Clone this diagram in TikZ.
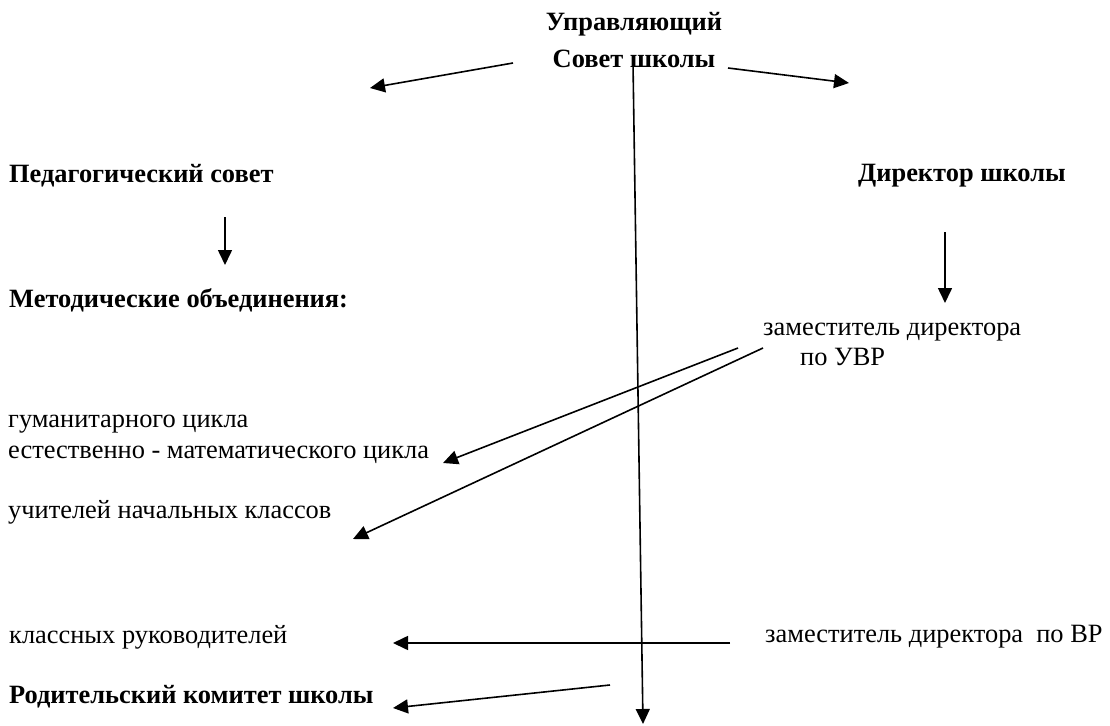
\documentclass[tikz,border=0pt]{standalone}
\usepackage{fontspec}
\setmainfont{Liberation Serif}
\usetikzlibrary{arrows.meta}
\tikzset{
  x=1bp, y=-1bp,
  txt/.style={inner sep=0pt, font=\fontsize{26.5}{30}\selectfont},
  btxt/.style={inner sep=0pt, font=\fontsize{26.5}{38}\selectfont\bfseries},
  conn/.style={line width=1.6bp, -{Triangle[length=15bp,width=14bp]}},
}
\begin{document}
\begin{tikzpicture}
\useasboundingbox[fill=white] (0,0) rectangle (1110,726);
% texts (a multi-line node's base is the baseline of its last line)
\node[btxt, anchor=base, align=center] (usc) at (634,68) {Управляющий\\Совет школы};
\node[btxt, anchor=base west] (ped) at (9,183) {Педагогический совет};
\node[btxt, anchor=base west] (dir) at (858,182) {Директор школы};
\node[btxt, anchor=base west] (met) at (9,307) {Методические объединения:};
\node[txt, anchor=base west, align=left] (zuvr) at (763,365) {заместитель директора\\\hspace*{37bp}по УВР};
\node[txt, anchor=base west] (gum) at (8,427) {гуманитарного цикла};
\node[txt, anchor=base west] (est) at (8,458) {естественно - математического цикла};
\node[txt, anchor=base west] (uch) at (8,518) {учителей начальных классов};
\node[txt, anchor=base west] (kl) at (9,643) {классных руководителей};
\node[txt, anchor=base west] (zvr) at (765,642) {заместитель директора \ по ВР};
\node[btxt, anchor=base west] (rod) at (9,703) {Родительский комитет школы};
% connector end points
\coordinate (a1s) at (513,63);  \coordinate (a1e) at (370,88);
\coordinate (a2s) at (728,68);  \coordinate (a2e) at (849,83);
\coordinate (vs) at (633,63);   \coordinate (ve) at (643,724);
\coordinate (p1s) at (225,217); \coordinate (p1e) at (225,265);
\coordinate (d1s) at (945,232); \coordinate (d1e) at (945,303);
\coordinate (u1s) at (738,348); \coordinate (u1e) at (443,463);
\coordinate (u2s) at (763,348); \coordinate (u2e) at (353,539);
\coordinate (k1s) at (730,643); \coordinate (k1e) at (393,643);
\coordinate (r1s) at (610,685); \coordinate (r1e) at (393,708);
% connectors
\draw[conn] (a1s) -- (a1e);
\draw[conn] (a2s) -- (a2e);
\draw[conn] (vs) -- (ve);
\draw[conn] (p1s) -- (p1e);
\draw[conn] (d1s) -- (d1e);
\draw[conn] (u1s) -- (u1e);
\draw[conn] (u2s) -- (u2e);
\draw[conn] (k1s) -- (k1e);
\draw[conn] (r1s) -- (r1e);
\end{tikzpicture}
\end{document}
